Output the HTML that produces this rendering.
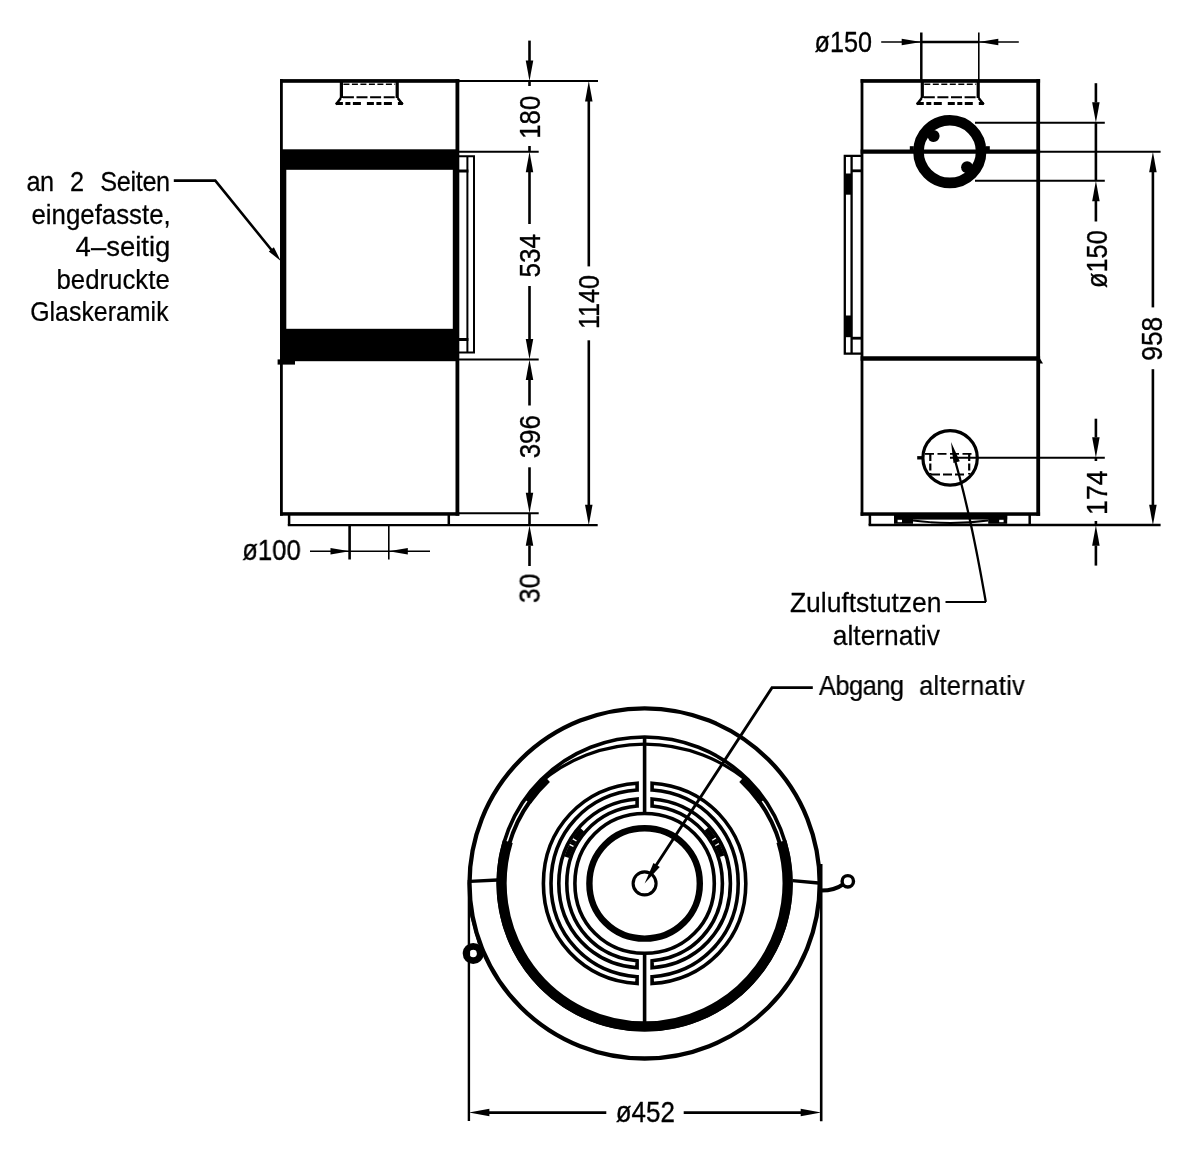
<!DOCTYPE html>
<html lang="de">
<head>
<meta charset="utf-8">
<title>Kaminofen Maßzeichnung</title>
<style>
html,body{margin:0;padding:0;background:#fff;}
body{width:1200px;height:1164px;overflow:hidden;}
svg{display:block;will-change:transform;}
svg line,svg path,svg circle,svg rect{stroke:#000;fill:none;}
svg text{font-family:"Liberation Sans",sans-serif;fill:#000;stroke:#000;stroke-width:0.35px;stroke-linejoin:round;}
svg .lbl text{stroke-width:0.25px;}
</style>
</head>
<body>
<svg width="1200" height="1164" viewBox="0 0 1200 1164">
<defs><filter id="soft" x="0" y="0" width="1200" height="1164" filterUnits="userSpaceOnUse"><feGaussianBlur stdDeviation="0.45"/></filter></defs>
<rect x="0" y="0" width="1200" height="1164" style="fill:#fff;stroke:none"/>
<g filter="url(#soft)">
<g id="front">
<rect x="280" y="79.1" width="2.8" height="436.6" style="fill:#000;stroke:none"/>
<rect x="455.5" y="79.1" width="3.8" height="436.6" style="fill:#000;stroke:none"/>
<rect x="280" y="79.1" width="179.3" height="3.7" style="fill:#000;stroke:none"/>
<rect x="280" y="512.2" width="179.3" height="3.5" style="fill:#000;stroke:none"/>
<rect x="280.1" y="149.3" width="178.8" height="20.5" style="fill:#000;stroke:none"/>
<rect x="280.1" y="328.8" width="178.8" height="32.4" style="fill:#000;stroke:none"/>
<rect x="280.1" y="169" width="6.2" height="160" style="fill:#000;stroke:none"/>
<rect x="452.8" y="169" width="6.2" height="160" style="fill:#000;stroke:none"/>
<rect x="277.6" y="359.4" width="17.4" height="5.2" style="fill:#000;stroke:none"/>
<path d="M289.1 514V525.2M448.8 514V525.2" stroke-width="2.5"/>
<line x1="341.4" y1="81" x2="341.4" y2="98" stroke-width="3.2"/>
<line x1="397.2" y1="81" x2="397.2" y2="98" stroke-width="3.2"/>
<line x1="343.4" y1="84.2" x2="395.2" y2="84.2" stroke-width="1.6" stroke-dasharray="6 2.5"/>
<line x1="342.9" y1="97.2" x2="395.7" y2="97.2" stroke-width="2" stroke-dasharray="11 2.6"/>
<path d="M335.9 103.6H402.7" stroke-width="3" stroke-dasharray="7 2.5 5 2.5 8 6"/>
<path d="M335.9 104.5L340.9 98M402.7 104.5L397.7 98" stroke-width="2.4"/>
<path d="M459 156.3H474V352.6H459" stroke-width="2"/>
<line x1="467.4" y1="156.3" x2="467.4" y2="352.6" stroke-width="2"/>
<line x1="459" y1="171" x2="468.4" y2="171" stroke-width="3"/>
<line x1="459" y1="339.5" x2="468.4" y2="339.5" stroke-width="3"/>
</g>
<g id="frontdims">
<line x1="458" y1="81" x2="598" y2="81" stroke-width="1.9"/>
<line x1="458" y1="151.7" x2="538.7" y2="151.7" stroke-width="1.9"/>
<line x1="458" y1="359.5" x2="538.7" y2="359.5" stroke-width="1.9"/>
<line x1="458" y1="513.3" x2="538.7" y2="513.3" stroke-width="1.9"/>
<line x1="287.8" y1="525.2" x2="597.7" y2="525.2" stroke-width="2.3"/>
<line x1="529.5" y1="40.6" x2="529.5" y2="61" stroke-width="2.6"/>
<line x1="529.5" y1="81" x2="529.5" y2="86" stroke-width="2.6"/>
<line x1="529.5" y1="146" x2="529.5" y2="151.7" stroke-width="2.6"/>
<line x1="529.5" y1="172" x2="529.5" y2="224" stroke-width="2.6"/>
<line x1="529.5" y1="286" x2="529.5" y2="339.5" stroke-width="2.6"/>
<line x1="529.5" y1="380" x2="529.5" y2="405.5" stroke-width="2.6"/>
<line x1="529.5" y1="467.3" x2="529.5" y2="493" stroke-width="2.6"/>
<line x1="529.5" y1="513.3" x2="529.5" y2="525.2" stroke-width="2.6"/>
<line x1="529.5" y1="545.5" x2="529.5" y2="566" stroke-width="2.6"/>
<polygon points="529.5,81 525.75,60.5 533.25,60.5" style="fill:#000;stroke:none"/>
<polygon points="529.5,151.7 533.25,172.2 525.75,172.2" style="fill:#000;stroke:none"/>
<polygon points="529.5,359.5 525.75,339 533.25,339" style="fill:#000;stroke:none"/>
<polygon points="529.5,359.5 533.25,380 525.75,380" style="fill:#000;stroke:none"/>
<polygon points="529.5,513.3 525.75,492.8 533.25,492.8" style="fill:#000;stroke:none"/>
<polygon points="529.5,525.2 533.25,545.7 525.75,545.7" style="fill:#000;stroke:none"/>
<line x1="588.8" y1="101" x2="588.8" y2="266.4" stroke-width="2.6"/>
<line x1="588.8" y1="340.3" x2="588.8" y2="505" stroke-width="2.6"/>
<polygon points="588.8,81 592.55,101.5 585.05,101.5" style="fill:#000;stroke:none"/>
<polygon points="588.8,525.2 585.05,504.7 592.55,504.7" style="fill:#000;stroke:none"/>
<line x1="349.6" y1="525.2" x2="349.6" y2="559.5" stroke-width="2.6"/>
<line x1="388.8" y1="525.2" x2="388.8" y2="559.5" stroke-width="1.6"/>
<line x1="310" y1="551.2" x2="430" y2="551.2" stroke-width="1.5"/>
<polygon points="349.5,551.2 330.5,554.45 330.5,547.95" style="fill:#000;stroke:none"/>
<polygon points="388.8,551.2 407.8,547.95 407.8,554.45" style="fill:#000;stroke:none"/>
<text transform="translate(242.16 560) scale(0.8694 1)" font-size="29.6">ø100</text>
<text transform="translate(539.6 138.74) rotate(-90) scale(0.8718 1)" font-size="29.6">180</text>
<text transform="translate(539.6 277.55) rotate(-90) scale(0.8833 1)" font-size="29.6">534</text>
<text transform="translate(539.6 458.34) rotate(-90) scale(0.8788 1)" font-size="29.6">396</text>
<text transform="translate(539.6 603.06) rotate(-90) scale(0.8922 1)" font-size="29.6">30</text>
<text transform="translate(599 329.09) rotate(-90) scale(0.8500 1)" font-size="29.6">1140</text>
</g>
<g id="frontlabel" class="lbl">
<text transform="translate(26.56 191.2) scale(0.8881 1)" font-size="28.5"><tspan letter-spacing="-0.58">an</tspan> <tspan x="48.95" letter-spacing="0">2</tspan> <tspan x="82.87" letter-spacing="-0.38">Seiten</tspan></text>
<text transform="translate(31.44 223.7) scale(0.9072 1)" font-size="28.5">eingefasste,</text>
<text transform="translate(75.61 256.2) scale(0.9653 1)" font-size="28.5">4–seitig</text>
<text transform="translate(56.42 288.7) scale(0.9059 1)" font-size="28.5">bedruckte</text>
<text transform="translate(30.15 321.2) scale(0.8745 1)" font-size="28.5">Glaskeramik</text>
<path d="M173.8 180.6H215.3L274 253" stroke-width="2.6"/>
<polygon points="280.8,261 268.81,251.42 273.85,247.32" style="fill:#000;stroke:none"/>
</g>
<g id="side">
<rect x="860.6" y="79.1" width="2.8" height="436.7" style="fill:#000;stroke:none"/>
<rect x="1036.3" y="79.1" width="3.8" height="436.7" style="fill:#000;stroke:none"/>
<rect x="860.6" y="79.1" width="179.5" height="3.7" style="fill:#000;stroke:none"/>
<rect x="860.6" y="512.3" width="179.5" height="3.5" style="fill:#000;stroke:none"/>
<line x1="860.6" y1="151.6" x2="1040.1" y2="151.6" stroke-width="4.2"/>
<line x1="860.6" y1="358.6" x2="1040.1" y2="358.6" stroke-width="4.5"/>
<polygon points="1040,358.6 1043,363.6 1040,363.6" style="fill:#000;stroke:none"/>
<line x1="922.3" y1="81" x2="922.3" y2="98" stroke-width="3.2"/>
<line x1="978.2" y1="81" x2="978.2" y2="98" stroke-width="3.2"/>
<line x1="924.3" y1="84.2" x2="976.2" y2="84.2" stroke-width="1.6" stroke-dasharray="6 2.5"/>
<line x1="923.8" y1="97.2" x2="976.7" y2="97.2" stroke-width="2" stroke-dasharray="11 2.6"/>
<path d="M916.8 103.6H983.7" stroke-width="3" stroke-dasharray="7 2.5 5 2.5 8 6"/>
<path d="M916.8 104.5L921.8 98M983.7 104.5L978.7 98" stroke-width="2.4"/>
<circle cx="949.8" cy="151.6" r="31.3" stroke-width="10.6"/>
<circle cx="933.6" cy="135.9" r="6" stroke-width="0" style="fill:#000"/>
<circle cx="967.1" cy="167.2" r="6" stroke-width="0" style="fill:#000"/>
<rect x="909.8" y="146.2" width="4" height="6.5" style="fill:#000;stroke:none"/>
<rect x="985.8" y="146.2" width="4" height="6.5" style="fill:#000;stroke:none"/>
<circle cx="950.1" cy="457.9" r="27.2" stroke-width="3.2"/>
<path d="M925 453.9H975" stroke-width="1.8" stroke-dasharray="9 3.5"/>
<path d="M931 474.5H967" stroke-width="2" stroke-dasharray="9 3"/>
<path d="M930.3 454V474.4M969.2 454V474.4" stroke-width="2.2" stroke-dasharray="7 2.5"/>
<line x1="917.2" y1="457.8" x2="924" y2="457.8" stroke-width="3.4"/>
<path d="M862 155.8H844.8V353.6H862" stroke-width="2.3"/>
<line x1="851.6" y1="155.8" x2="851.6" y2="353.6" stroke-width="2.3"/>
<line x1="851.6" y1="170.8" x2="862" y2="170.8" stroke-width="2.8"/>
<line x1="851.6" y1="338.2" x2="862" y2="338.2" stroke-width="2.8"/>
<rect x="845" y="173.5" width="7" height="21.2" style="fill:#000;stroke:none"/>
<rect x="845" y="315.5" width="7" height="21.7" style="fill:#000;stroke:none"/>
<path d="M869.9 514V525M1029.7 514V525" stroke-width="2.5"/>
<rect x="894" y="514" width="113.2" height="5.6" style="fill:#000;stroke:none"/>
<rect x="894" y="514" width="19" height="9.8" style="fill:#000;stroke:none"/>
<rect x="988.2" y="514" width="19" height="9.8" style="fill:#000;stroke:none"/>
<rect x="898" y="519.6" width="4.2" height="2.4" style="fill:#000;stroke:none"/>
<rect x="897.6" y="519.8" width="4.4" height="2.4" style="fill:#fff;stroke:none"/>
<rect x="999.2" y="519.8" width="4.4" height="2.4" style="fill:#fff;stroke:none"/>
<path d="M913 520.5Q950.6 525.5 988.2 520.5" stroke-width="1.8"/>
</g>
<g id="sidedims">
<line x1="921.3" y1="32.5" x2="921.3" y2="81" stroke-width="2.5"/>
<line x1="978.8" y1="32.5" x2="978.8" y2="81" stroke-width="1.6"/>
<line x1="881.2" y1="42" x2="1018.8" y2="42" stroke-width="1.6"/>
<line x1="921.2" y1="42" x2="978.8" y2="42" stroke-width="2.4"/>
<polygon points="921.2,42 901.7,45.3 901.7,38.7" style="fill:#000;stroke:none"/>
<polygon points="978.8,42 998.3,38.7 998.3,45.3" style="fill:#000;stroke:none"/>
<text transform="translate(814.57 52.4) scale(0.8511 1)" font-size="29.6">ø150</text>
<line x1="975" y1="122.7" x2="1104.8" y2="122.7" stroke-width="1.9"/>
<line x1="1038" y1="151.8" x2="1160.6" y2="151.8" stroke-width="1.9"/>
<line x1="975" y1="180.8" x2="1104.8" y2="180.8" stroke-width="1.9"/>
<line x1="950" y1="457.8" x2="1104.8" y2="457.8" stroke-width="1.9"/>
<line x1="868.6" y1="525" x2="1160.6" y2="525" stroke-width="2.3"/>
<line x1="1095.9" y1="83.2" x2="1095.9" y2="102.5" stroke-width="2.6"/>
<line x1="1095.9" y1="122.7" x2="1095.9" y2="180.8" stroke-width="2.6"/>
<line x1="1095.9" y1="201" x2="1095.9" y2="221.5" stroke-width="2.6"/>
<line x1="1095.9" y1="418.7" x2="1095.9" y2="437.5" stroke-width="2.6"/>
<line x1="1095.9" y1="457.8" x2="1095.9" y2="461" stroke-width="2.6"/>
<line x1="1095.9" y1="521" x2="1095.9" y2="525.2" stroke-width="2.6"/>
<line x1="1095.9" y1="545.5" x2="1095.9" y2="565.6" stroke-width="2.6"/>
<polygon points="1095.9,122.7 1092.15,102.2 1099.65,102.2" style="fill:#000;stroke:none"/>
<polygon points="1095.9,180.8 1099.65,201.3 1092.15,201.3" style="fill:#000;stroke:none"/>
<polygon points="1095.9,457.8 1092.15,437.3 1099.65,437.3" style="fill:#000;stroke:none"/>
<polygon points="1095.9,525.2 1099.65,545.7 1092.15,545.7" style="fill:#000;stroke:none"/>
<line x1="1152.9" y1="172" x2="1152.9" y2="307.4" stroke-width="2.6"/>
<line x1="1152.9" y1="369.2" x2="1152.9" y2="505" stroke-width="2.6"/>
<polygon points="1152.9,151.8 1156.65,172.3 1149.15,172.3" style="fill:#000;stroke:none"/>
<polygon points="1152.9,525.2 1149.15,504.7 1156.65,504.7" style="fill:#000;stroke:none"/>
<text transform="translate(1106.8 288.03) rotate(-90) scale(0.8572 1)" font-size="29.6">ø150</text>
<text transform="translate(1162 360.79) rotate(-90) scale(0.8916 1)" font-size="29.6">958</text>
<text transform="translate(1106.8 515.01) rotate(-90) scale(0.9052 1)" font-size="29.6">174</text>
</g>
<g id="sidelabel" class="lbl">
<text transform="translate(789.91 612.4) scale(0.9292 1)" font-size="28.5">Zuluftstutzen</text>
<text transform="translate(832.81 645) scale(0.9258 1)" font-size="28.5">alternativ</text>
<line x1="945.5" y1="602" x2="986" y2="602" stroke-width="2.2"/>
<path d="M985.8 602C981 575 972 520 955.5 462" stroke-width="2.3"/>
<polygon points="951,442 959.79,461.35 953.53,463.1" style="fill:#000;stroke:none"/>
</g>
<g id="top">
<circle cx="644.6" cy="883.4" r="175.1" stroke-width="4.3"/>
<circle cx="644.6" cy="883.4" r="146.4" stroke-width="3.6"/>
<path d="M538.78 783.67A161.3 161.3 0 0 1 750.42 783.67" stroke-width="3.2"/>
<path d="M781.35 841.59A143 143 0 1 1 507.85 841.59" stroke-width="10.2"/>
<path d="M758.67 800.52A141 141 0 0 1 780.14 844.54" stroke-width="4"/>
<path d="M509.06 844.54A141 141 0 0 1 530.53 800.52" stroke-width="4"/>
<path d="M742.13 778.82A143 143 0 0 1 761.74 801.38" stroke-width="8.4"/>
<path d="M527.46 801.38A143 143 0 0 1 547.07 778.82" stroke-width="8.4"/>
<line x1="470" y1="881.4" x2="497.5" y2="880" stroke-width="3.4"/>
<line x1="792.5" y1="880.6" x2="818.5" y2="883" stroke-width="3.4"/>
<line x1="644.6" y1="736.8" x2="644.6" y2="814" stroke-width="3.6"/>
<line x1="644.6" y1="953" x2="644.6" y2="1025.5" stroke-width="3.6"/>
<circle cx="644.6" cy="883.4" r="11.5" stroke-width="3.1"/>
<path d="M652.1 783.25C706.01 786.81 745.8 828.68 745.8 883.4C745.8 938.12 706.01 979.99 652.1 983.55L652.1 976.73C701.68 973.15 738.2 934.22 738.2 883.4C738.2 832.58 701.68 793.65 652.1 790.07Z" stroke-width="3.6" stroke-linejoin="miter"/>
<path d="M637.1 783.25C583.19 786.81 543.4 828.68 543.4 883.4C543.4 938.12 583.19 979.99 637.1 983.55L637.1 976.73C587.52 973.15 551 934.22 551 883.4C551 832.58 587.52 793.65 637.1 790.07Z" stroke-width="3.6" stroke-linejoin="miter"/>
<path d="M652.1 798.99C697.23 802.51 730.4 837.62 730.4 883.4C730.4 929.18 697.23 964.29 652.1 967.81L652.1 960.78C692.66 957.24 722.4 925.16 722.4 883.4C722.4 841.64 692.66 809.56 652.1 806.02Z" stroke-width="3.6" stroke-linejoin="miter"/>
<path d="M637.1 798.99C591.97 802.51 558.8 837.62 558.8 883.4C558.8 929.18 591.97 964.29 637.1 967.81L637.1 960.78C596.54 957.24 566.8 925.16 566.8 883.4C566.8 841.64 596.54 809.56 637.1 806.02Z" stroke-width="3.6" stroke-linejoin="miter"/>
<path d="M644.6 813.5C684.33 813.5 714.3 843.56 714.3 883.4C714.3 923.24 684.33 953.3 644.6 953.3C604.87 953.3 574.9 923.24 574.9 883.4C574.9 843.56 604.87 813.5 644.6 813.5Z" stroke-width="3.6"/>
<path d="M644.6 828.2C675.62 828.2 699.8 852.38 699.8 883.4C699.8 914.42 675.62 938.6 644.6 938.6C613.58 938.6 589.4 914.42 589.4 883.4C589.4 852.38 613.58 828.2 644.6 828.2Z" stroke-width="6.4"/>
<path d="M566.83 857.18C570.24 846.58 575.71 837.06 582.82 829.04" stroke-width="5" stroke-dasharray="12 1.3 5 1.3"/>
<path d="M706.38 829.04C713.49 837.06 718.96 846.58 722.37 857.18" stroke-width="5" stroke-dasharray="12 1.3 5 1.3"/>
<circle cx="473.2" cy="953.5" r="7.1" stroke-width="6.8"/>
<path d="M468.9 880V1121" stroke-width="2.4"/>
<path d="M470.2 910L479.5 944" stroke-width="3"/>
<circle cx="847.8" cy="881.3" r="5.7" stroke-width="3.4"/>
<path d="M821 890.6Q835 890.4 842.6 884.6" stroke-width="4"/>
</g>
<g id="topdims">
<line x1="821.2" y1="864" x2="821.2" y2="1121.2" stroke-width="2.6"/>
<line x1="489" y1="1112.6" x2="606.3" y2="1112.6" stroke-width="2.6"/>
<line x1="683.7" y1="1112.6" x2="801" y2="1112.6" stroke-width="2.6"/>
<polygon points="468.9,1112.6 489.4,1108.85 489.4,1116.35" style="fill:#000;stroke:none"/>
<polygon points="821.2,1112.6 800.7,1116.35 800.7,1108.85" style="fill:#000;stroke:none"/>
<text transform="translate(615.75 1122.4) scale(0.8764 1)" font-size="29.6">ø452</text>
</g>
<g id="toplabel" class="lbl">
<text transform="translate(818.87 695) scale(0.8932 1)" font-size="28.5"><tspan letter-spacing="-0.56">Abgang</tspan> <tspan x="112.16" letter-spacing="0.31">alternativ</tspan></text>
<path d="M812.8 687.6H772L655 867" stroke-width="2.9"/>
<polygon points="644.6,883.4 653.46,862.91 659.74,867.01" style="fill:#000;stroke:none"/>
</g>
</g>
</svg>
</body>
</html>
